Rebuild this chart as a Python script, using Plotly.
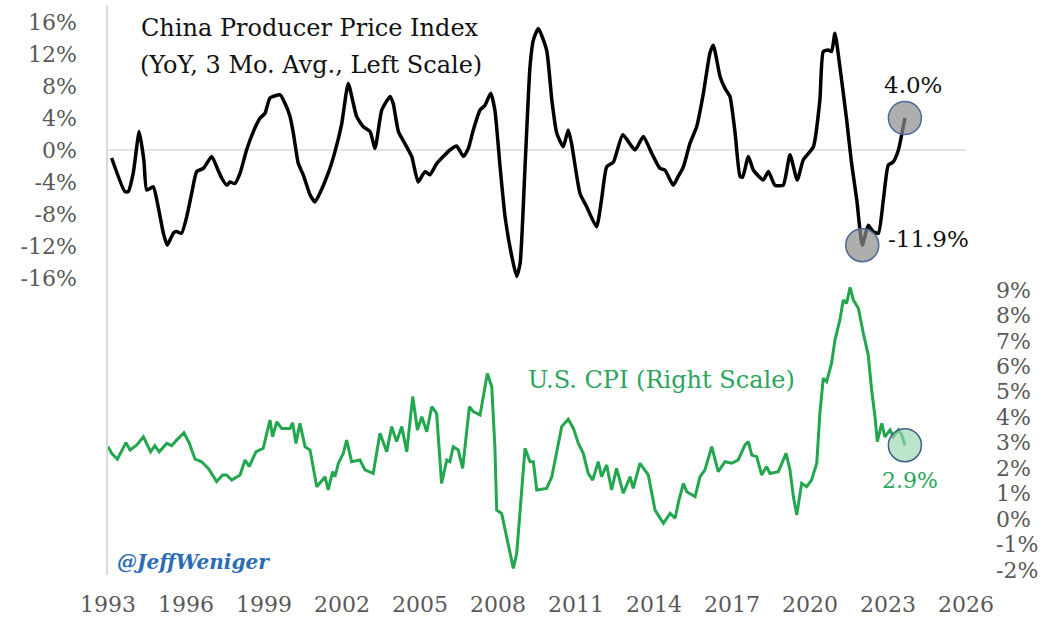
import plotly.graph_objects as go

# ---------------- data ----------------
ppi_years = [1993.14, 1993.65, 1993.78, 1993.97, 1994.20, 1994.38, 1994.49, 1994.74, 1994.93,
             1995.13, 1995.28, 1995.51, 1995.64, 1995.83, 1996.03, 1996.22, 1996.41, 1996.67,
             1996.99, 1997.18, 1997.37, 1997.57, 1997.69, 1997.88, 1998.08, 1998.33, 1998.59,
             1998.85, 1999.04, 1999.23, 1999.62, 1999.81, 2000.00, 2000.13, 2000.32, 2000.51,
             2000.77, 2000.96, 2001.15, 2001.47, 2001.73, 2001.99, 2002.24, 2002.56, 2002.82,
             2003.08, 2003.27, 2003.53, 2003.85, 2003.97, 2004.17, 2004.42, 2004.68, 2004.93,
             2005.19, 2005.38, 2005.64, 2005.96, 2006.15, 2006.41, 2006.67, 2006.86, 2007.05,
             2007.31, 2007.50, 2007.72, 2007.88, 2008.08, 2008.27, 2008.53, 2008.72, 2008.85,
             2009.04, 2009.23, 2009.36, 2009.55, 2009.87, 2010.07, 2010.26, 2010.51, 2010.70,
             2010.83, 2011.15, 2011.41, 2011.79, 2011.98, 2012.18, 2012.44, 2012.80, 2013.27,
             2013.59, 2013.91, 2014.23, 2014.42, 2014.74, 2014.93, 2015.13, 2015.38, 2015.64,
             2015.90, 2016.15, 2016.28, 2016.54, 2016.73, 2016.92, 2017.12, 2017.31, 2017.41,
             2017.63, 2017.82, 2018.20, 2018.40, 2018.65, 2018.97, 2019.23, 2019.51, 2019.74,
             2020.13, 2020.38, 2020.51, 2020.70, 2020.83, 2020.96, 2021.15, 2021.41, 2021.60,
             2021.80, 2022.01, 2022.24, 2022.43, 2022.63, 2022.82, 2023.01, 2023.20, 2023.40,
             2023.65]
ppi_values = [-1.0, -5.2, -5.2, -2.9, 2.3, -1.3, -5.0, -4.6, -7.1,
              -10.4, -11.9, -10.4, -10.2, -10.4, -8.3, -5.4, -2.7, -2.3,
              -0.8, -2.1, -3.5, -4.4, -4.0, -4.2, -2.9, 0.0, 2.3,
              4.0, 4.6, 6.5, 6.9, 5.8, 4.2, 2.1, -1.7, -3.1,
              -5.6, -6.5, -5.4, -2.9, -0.2, 3.3, 8.3, 4.2, 2.9,
              2.3, 0.2, 5.0, 6.7, 5.8, 2.3, 0.8, -0.8, -4.0,
              -2.7, -3.1, -1.7, -0.6, 0.0, 0.5, -0.8, 0.2, 2.5,
              5.0, 5.6, 7.1, 5.0, -2.1, -8.3, -13.3, -15.8, -14.2,
              -2.1, 10.4, 13.75, 15.2, 12.5, 6.25, 2.1, 0.4, 2.5,
              0.8, -5.4, -7.1, -9.6, -6.25, -2.1, -1.5, 1.9, 0.0,
              1.7, -0.4, -2.3, -2.5, -4.4, -3.3, -2.1, 0.8, 2.9,
              7.1, 12.1, 13.1, 9.2, 7.7, 6.7, 2.1, -3.3, -3.4,
              -0.8, -2.5, -3.75, -2.7, -4.4, -4.4, -0.6, -3.75, -1.25,
              0.4, 6.25, 12.3, 12.5, 12.3, 14.6, 10.4, 3.75, -1.7,
              -6.25, -11.9, -9.4, -10.2, -10.4, -6.25, -1.9, -1.5, 0.0,
              4.0]

cpi_years = [1993.00, 1993.14, 1993.36, 1993.53, 1993.69, 1993.85, 1994.10, 1994.36, 1994.64,
             1994.80, 1994.97, 1995.26, 1995.45, 1995.64, 1995.92, 1996.13, 1996.35, 1996.60,
             1996.86, 1997.18, 1997.41, 1997.56, 1997.76, 1998.08, 1998.27, 1998.43, 1998.69,
             1998.97, 1999.23, 1999.33, 1999.49, 1999.68, 2000.00, 2000.10, 2000.23, 2000.38,
             2000.58, 2000.77, 2001.03, 2001.35, 2001.47, 2001.64, 2001.73, 2001.86, 2002.05,
             2002.18, 2002.37, 2002.69, 2002.88, 2003.20, 2003.46, 2003.72, 2003.91, 2004.10,
             2004.30, 2004.49, 2004.72, 2004.90, 2005.07, 2005.26, 2005.45, 2005.64, 2005.83,
             2006.03, 2006.15, 2006.28, 2006.47, 2006.64, 2006.90, 2007.05, 2007.31, 2007.59,
             2007.76, 2007.88, 2007.95, 2008.14, 2008.40, 2008.59, 2008.72, 2008.91, 2009.04,
             2009.23, 2009.36, 2009.49, 2009.87, 2010.07, 2010.26, 2010.45, 2010.70, 2010.90,
             2011.09, 2011.28, 2011.47, 2011.64, 2011.86, 2011.98, 2012.18, 2012.37, 2012.56,
             2012.82, 2013.08, 2013.20, 2013.46, 2013.78, 2014.04, 2014.36, 2014.62, 2014.81,
             2014.95, 2015.13, 2015.26, 2015.58, 2015.77, 2015.96, 2016.22, 2016.47, 2016.73,
             2016.99, 2017.24, 2017.50, 2017.63, 2017.76, 2017.95, 2018.14, 2018.33, 2018.46,
             2018.78, 2019.08, 2019.23, 2019.36, 2019.49, 2019.68, 2019.87, 2020.06, 2020.26,
             2020.38, 2020.51, 2020.64, 2020.83, 2020.96, 2021.15, 2021.28, 2021.41, 2021.54,
             2021.67, 2021.86, 2022.05, 2022.24, 2022.37, 2022.50, 2022.59, 2022.76, 2022.88,
             2023.08, 2023.20, 2023.40, 2023.53, 2023.65]
cpi_values = [2.84, 2.58, 2.35, 2.71, 3.00, 2.71, 2.90, 3.23, 2.64,
              2.88, 2.64, 2.97, 2.88, 3.10, 3.39, 2.97, 2.35, 2.25,
              1.99, 1.47, 1.73, 1.73, 1.53, 1.73, 2.32, 2.06, 2.64,
              2.78, 3.89, 3.23, 3.82, 3.56, 3.56, 3.78, 2.97, 3.76,
              2.84, 2.71, 1.27, 1.66, 1.14, 1.86, 1.66, 2.19, 2.58,
              3.10, 2.25, 2.32, 1.93, 1.79, 3.37, 2.64, 3.63, 3.04,
              3.63, 2.64, 4.81, 3.50, 4.02, 3.43, 4.41, 4.15, 1.40,
              2.32, 2.25, 2.84, 2.71, 1.99, 4.41, 4.22, 4.09, 5.72,
              5.20, 2.84, 0.35, 0.22, -1.09, -1.94, -1.35, 1.27, 2.78,
              2.25, 2.25, 1.14, 1.20, 1.66, 2.71, 3.63, 3.92, 3.56,
              2.97, 2.58, 1.79, 1.53, 2.25, 1.66, 2.12, 1.14, 1.99,
              1.01, 1.66, 1.20, 2.19, 1.73, 0.35, -0.17, 0.22, 0.03,
              0.70, 1.40, 1.07, 0.88, 1.66, 1.93, 2.84, 1.86, 2.25,
              2.19, 2.32, 2.91, 3.04, 2.51, 2.45, 1.73, 2.06, 1.79,
              1.86, 2.58, 1.93, 0.88, 0.16, 1.40, 1.27, 1.53, 2.19,
              4.15, 5.53, 5.40, 6.12, 7.03, 7.82, 8.60, 8.47, 9.10,
              8.60, 8.28, 7.30, 6.44, 5.07, 4.02, 3.04, 3.76, 3.23,
              3.50, 3.23, 3.50, 3.30, 2.90]

x_ticks = [1993, 1996, 1999, 2002, 2005, 2008, 2011, 2014, 2017, 2020, 2023, 2026]
left_ticks = [-16, -12, -8, -4, 0, 4, 8, 12, 16]
right_ticks = [-2, -1, 0, 1, 2, 3, 4, 5, 6, 7, 8, 9]

# ---------------- style ----------------
FONT = "DejaVu Serif"
TICK_COLOR = "#595959"
GREEN = "#22a64e"
GREEN_TEXT = "#2aa55c"

W, H = 1044, 622
ML, MR, MT, MB = 108, 78, 5, 47

# recent trough (post-2020 low) highlighted in the reference
recent = [i for i, yr in enumerate(ppi_years) if yr >= 2020]
ppi_min_i = min(recent, key=lambda i: ppi_values[i])

fig = go.Figure()

fig.add_trace(go.Scatter(x=ppi_years, y=ppi_values, mode="lines", yaxis="y",
                         line=dict(color="#000000", width=3.5, shape="spline", smoothing=0.5),
                         hoverinfo="skip"))
fig.add_trace(go.Scatter(x=cpi_years, y=cpi_values, mode="lines", yaxis="y2",
                         line=dict(color=GREEN, width=3),
                         hoverinfo="skip"))

# highlight circles
fig.add_trace(go.Scatter(x=[ppi_years[-1], ppi_years[ppi_min_i]],
                         y=[ppi_values[-1], ppi_values[ppi_min_i]],
                         mode="markers", yaxis="y",
                         marker=dict(size=33, color="rgba(140,140,140,0.7)",
                                     line=dict(color="#4b6a9b", width=1.5)),
                         hoverinfo="skip"))
fig.add_trace(go.Scatter(x=[cpi_years[-1]], y=[cpi_values[-1]],
                         mode="markers", yaxis="y2",
                         marker=dict(size=33, color="rgba(150,215,175,0.65)",
                                     line=dict(color="#3f5f88", width=1.5)),
                         hoverinfo="skip"))

left_range = [-53.125, 18.125]
right_range = [-2.2004, 20.196]

fig.update_layout(
    width=W, height=H,
    margin=dict(l=ML, r=MR, t=MT, b=MB, autoexpand=False),
    paper_bgcolor="white", plot_bgcolor="white",
    showlegend=False,
    font=dict(family=FONT, color=TICK_COLOR),
    xaxis=dict(range=[1993, 2026], tickvals=x_ticks, ticktext=[str(t) for t in x_ticks],
               showgrid=False, zeroline=False, showline=False, ticks="", automargin=False,
               tickfont=dict(family=FONT, size=22, color=TICK_COLOR),
               ticklabelstandoff=14),
    yaxis=dict(range=left_range, tickvals=left_ticks,
               ticktext=[f"{v}%" for v in left_ticks],
               showgrid=False, zeroline=True, zerolinecolor="#e3e3e3", zerolinewidth=1.5,
               showline=True, linecolor="#d9d9d9", linewidth=1.5, ticks="", automargin=False,
               tickfont=dict(family=FONT, size=22, color=TICK_COLOR),
               ticklabelstandoff=25),
    yaxis2=dict(range=right_range, tickvals=right_ticks,
                ticktext=[f"{v}%" for v in right_ticks],
                overlaying="y", side="right", automargin=False,
                showgrid=False, zeroline=False, showline=False, ticks="",
                tickfont=dict(family=FONT, size=22, color=TICK_COLOR),
                ticklabelstandoff=29),
)

PW = W - ML - MR
PH = H - MT - MB

annos = [
    dict(text="China Producer Price Index", x=310, y=28, color="#111111", size=24, xanchor="center"),
    dict(text="(YoY, 3 Mo. Avg., Left Scale)", x=311, y=65, color="#111111", size=24, xanchor="center"),
    dict(text="U.S. CPI (Right Scale)", x=661, y=380, color=GREEN_TEXT, size=24, xanchor="center"),
    dict(text="4.0%", x=913, y=85, color="#111111", size=23, xanchor="center"),
    dict(text="-11.9%", x=886, y=239, color="#111111", size=23, xanchor="left"),
    dict(text="2.9%", x=910, y=480, color=GREEN_TEXT, size=22, xanchor="center"),
]
for a in annos:
    fig.add_annotation(text=a["text"], xref="paper", yref="paper",
                       x=(a["x"] - ML) / PW,
                       y=1 - (a["y"] - MT) / PH,
                       xanchor=a["xanchor"], yanchor="middle", showarrow=False,
                       font=dict(family=FONT, size=a["size"], color=a["color"]))

fig.add_annotation(text="<b><i>@JeffWeniger</i></b>", xref="paper", yref="paper",
                   x=(115 - ML) / PW, y=1 - (562 - MT) / PH,
                   xanchor="left", yanchor="middle", showarrow=False,
                   bgcolor="white",
                   font=dict(family=FONT, size=20, color="#2b6cb3"))

# remove the browser's default page margin so the figure sits at the window's top-left
fig.write_html("out.html", config={"displayModeBar": False},
               post_script="document.body.style.margin='0';")
